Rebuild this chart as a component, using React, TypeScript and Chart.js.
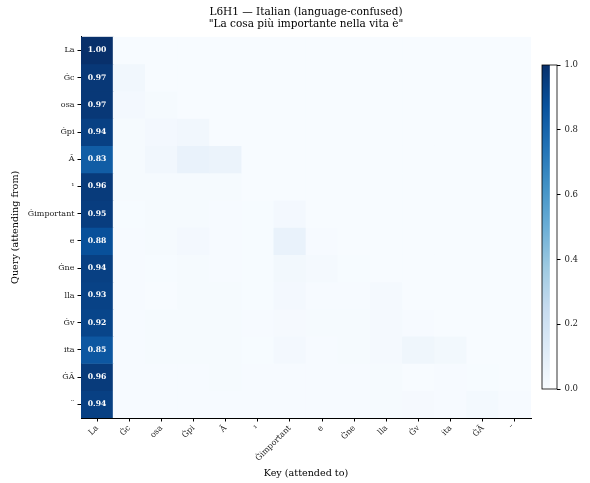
import React, { useEffect, useRef } from "react";
import { Chart, registerables } from "chart.js";
Chart.register(...registerables);

const TITLE_LINES = ["L6H1 \u2014 Italian (language-confused)", "\"La cosa pi\u00f9 importante nella vita \u00e8\""];
const TOKENS = ["La", "\u0120c", "osa", "\u0120pi", "\u00c3", "\u00b9", "\u0120important", "e", "\u0120ne", "lla", "\u0120v", "ita", "\u0120\u00c3", "\u00a8"];
const X_TITLE = "Key (attended to)";
const Y_TITLE = "Query (attending from)";

// causal attention rows (row i attends to keys 0..i)
const ROW_0 = [1.0];
const ROW_1 = [0.97, 0.03];
const ROW_2 = [0.97, 0.02, 0.01];
const ROW_3 = [0.94, 0.01, 0.02, 0.03];
const ROW_4 = [0.83, 0.01, 0.03, 0.07, 0.06];
const ROW_5 = [0.96, 0.01, 0.01, 0.01, 0.01, 0.0];
const ROW_6 = [0.95, 0.003, 0.01, 0.01, 0.005, 0.003, 0.02];
const ROW_7 = [0.88, 0.005, 0.01, 0.02, 0.005, 0.003, 0.07, 0.007];
const ROW_8 = [0.94, 0.005, 0.003, 0.008, 0.005, 0.003, 0.025, 0.015, 0.003];
const ROW_9 = [0.93, 0.005, 0.002, 0.008, 0.01, 0.003, 0.02, 0.005, 0.005, 0.015];
const ROW_10 = [0.92, 0.005, 0.008, 0.008, 0.008, 0.005, 0.012, 0.01, 0.01, 0.015, 0.005];
const ROW_11 = [0.85, 0.005, 0.01, 0.01, 0.008, 0.003, 0.02, 0.005, 0.01, 0.015, 0.04, 0.025];
const ROW_12 = [0.96, 0.004, 0.004, 0.004, 0.008, 0.004, 0.004, 0.004, 0.004, 0.008, 0.002, 0.005, 0.003];
const ROW_13 = [0.94, 0.004, 0.004, 0.004, 0.004, 0.004, 0.006, 0.004, 0.004, 0.008, 0.012, 0.006, 0.018, 0.004];
const ROWS = [ROW_0, ROW_1, ROW_2, ROW_3, ROW_4, ROW_5, ROW_6, ROW_7, ROW_8, ROW_9, ROW_10, ROW_11, ROW_12, ROW_13];

const CB_TICKS = [0, 0.2, 0.4, 0.6, 0.8, 1.0];

const BLUES: [number, string][] = [
  [0.0, "#f7fbff"], [0.125, "#deebf7"], [0.25, "#c6dbef"], [0.375, "#9ecae1"],
  [0.5, "#6baed6"], [0.625, "#4292c6"], [0.75, "#2171b5"], [0.875, "#08519c"], [1.0, "#08306b"],
];
const hex = (h: string) => [parseInt(h.slice(1, 3), 16), parseInt(h.slice(3, 5), 16), parseInt(h.slice(5, 7), 16)];
function blues(v: number): string {
  const t = Math.max(0, Math.min(1, v));
  for (let i = 1; i < BLUES.length; i++) {
    if (t <= BLUES[i][0]) {
      const [t0, c0] = BLUES[i - 1];
      const [t1, c1] = BLUES[i];
      const f = (t - t0) / (t1 - t0);
      const a = hex(c0), b = hex(c1);
      const c = a.map((x, k) => Math.round(x + (b[k] - x) * f));
      return `rgb(${c[0]},${c[1]},${c[2]})`;
    }
  }
  return BLUES[BLUES.length - 1][1];
}
const cell = (r: number, c: number) => (c < ROWS[r].length ? ROWS[r][c] : 0);

const SERIF = "'DejaVu Serif', serif";
const W = 590, H = 483;

export default function App() {
  const mainRef = useRef<HTMLCanvasElement>(null);
  const cbRef = useRef<HTMLCanvasElement>(null);

  useEffect(() => {
    const titlePlugin = {
      id: "figTitle",
      afterDraw(chart: any) {
        const { ctx, chartArea } = chart;
        const cx = (chartArea.left + chartArea.right) / 2;
        ctx.save();
        ctx.fillStyle = "#000";
        ctx.font = `10.5px ${SERIF}`;
        ctx.textAlign = "center";
        ctx.textBaseline = "middle";
        ctx.fillText(TITLE_LINES[0], cx, 12.5);
        ctx.fillText(TITLE_LINES[1], cx, 24);
        ctx.restore();
      },
    };
    const annotPlugin = {
      id: "annot",
      afterDatasetsDraw(chart: any) {
        const { ctx } = chart;
        ctx.save();
        ctx.font = `bold 7.7px ${SERIF}`;
        ctx.textAlign = "center";
        ctx.textBaseline = "middle";
        ROWS.forEach((row, r) => {
          const meta = chart.getDatasetMeta(r);
          row.forEach((v, c) => {
            if (v < 0.1) return;
            const el: any = meta.data[c];
            ctx.fillStyle = v > 0.5 ? "#fff" : "#000";
            ctx.fillText(v.toFixed(2), el.x, (el.y + el.base) / 2);
          });
        });
        ctx.restore();
      },
    };

    const datasets = ROWS.map((_, r) => ({
      label: TOKENS[r],
      data: TOKENS.map(() => [r, r + 1]),
      backgroundColor: TOKENS.map((_, c) => blues(cell(r, c))),
      borderWidth: 0,
      barPercentage: 1,
      categoryPercentage: 1,
      grouped: false,
    }));

    const main = new Chart(mainRef.current!, {
      type: "bar",
      data: { labels: TOKENS, datasets: datasets as any },
      options: {
        responsive: false,
        animation: false,
        layout: { padding: { top: 36.7, left: 0, right: 59, bottom: 0 } },
        plugins: { legend: { display: false }, tooltip: { enabled: false }, title: { display: false } },
        scales: {
          x: {
            type: "category",
            offset: true,
            grid: { display: true, offset: false, drawOnChartArea: false, drawTicks: true, tickLength: 3.5, color: "#000" },
            border: { display: true, color: "#000", width: 1 },
            ticks: { autoSkip: false, minRotation: 45, maxRotation: 45, padding: 2, color: "#222", font: { family: SERIF, size: 8 } },
            title: { display: true, text: X_TITLE, color: "#000", font: { family: SERIF, size: 9.6 }, padding: { top: 0, bottom: 3.5 } },
            afterFit(scale: any) { scale.height = 65; },
          },
          y: {
            type: "linear",
            min: 0,
            max: TOKENS.length,
            reverse: true,
            afterBuildTicks(scale: any) { scale.ticks = TOKENS.map((_, i) => ({ value: i + 0.5 })); },
            grid: { display: true, drawOnChartArea: false, drawTicks: true, tickLength: 3.5, color: "#000" },
            border: { display: true, color: "#000", width: 1 },
            ticks: {
              autoSkip: false, padding: 3, color: "#222", font: { family: SERIF, size: 8 },
              callback: (_v: any, i: number) => TOKENS[i],
            },
            title: { display: true, text: Y_TITLE, color: "#000", font: { family: SERIF, size: 9.6 }, padding: { top: 9.5, bottom: 0 } },
            afterFit(scale: any) { scale.width = 81; },
          },
        },
      },
      plugins: [titlePlugin, annotPlugin],
    } as any);

    const outline = {
      id: "outline",
      afterDatasetsDraw(chart: any) {
        const { ctx, chartArea: a } = chart;
        ctx.save();
        ctx.strokeStyle = "#000";
        ctx.lineWidth = 0.8;
        ctx.strokeRect(a.left, a.top, a.right - a.left, a.bottom - a.top);
        ctx.restore();
      },
    };
    const cb = new Chart(cbRef.current!, {
      type: "bar",
      data: {
        labels: ["cb"],
        datasets: [{
          data: [[0, 1]],
          borderWidth: 0,
          barPercentage: 1,
          categoryPercentage: 1,
          backgroundColor: (ctx: any) => {
            const area = ctx.chart.chartArea;
            if (!area) return "#6baed6";
            const g = ctx.chart.ctx.createLinearGradient(0, area.bottom, 0, area.top);
            BLUES.forEach(([t, c]) => g.addColorStop(t, c));
            return g;
          },
        }],
      },
      options: {
        responsive: false,
        animation: false,
        layout: { padding: { top: 10, bottom: 11, left: 12, right: 0 } },
        plugins: { legend: { display: false }, tooltip: { enabled: false } },
        scales: {
          x: { display: false, offset: false },
          y: {
            position: "right",
            min: 0,
            max: 1,
            afterBuildTicks(scale: any) { scale.ticks = CB_TICKS.map((v) => ({ value: v })); },
            grid: { display: true, drawOnChartArea: false, drawTicks: true, tickLength: 3.5, color: "#000" },
            border: { display: false },
            ticks: { padding: 4, color: "#222", font: { family: SERIF, size: 8.5 }, callback: (v: any) => Number(v).toFixed(1) },
            afterFit(scale: any) { scale.width = 33; },
          },
        },
      },
      plugins: [outline],
    } as any);

    return () => { main.destroy(); cb.destroy(); };
  }, []);

  return (
    <div style={{ position: "absolute", left: 0, top: 0, width: W, height: H, background: "#fff" }}>
      <canvas ref={mainRef} width={W} height={H} style={{ position: "absolute", left: 0, top: 0, width: W, height: H }} />
      <canvas ref={cbRef} width={60} height={345} style={{ position: "absolute", left: 530, top: 55, width: 60, height: 345 }} />
    </div>
  );
}
